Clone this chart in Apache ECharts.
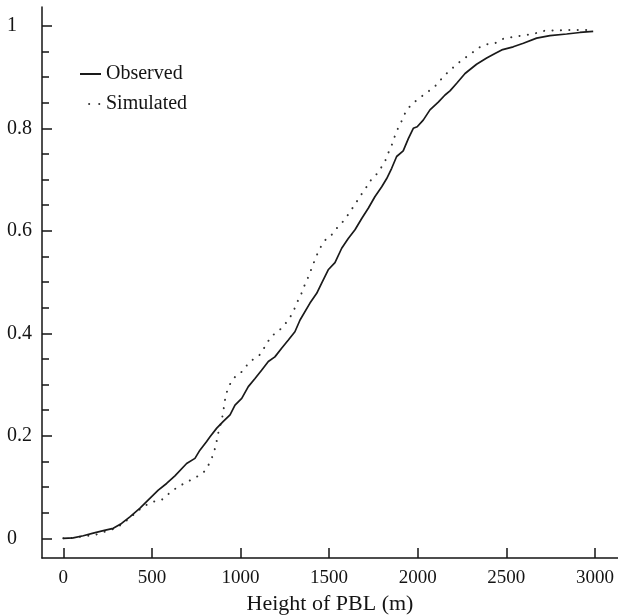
<!DOCTYPE html>
<html>
<head>
<meta charset="utf-8">
<script src="https://cdn.jsdelivr.net/npm/echarts@6/dist/echarts.min.js"></script>
<style>
  html, body { margin: 0; padding: 0; background: #ffffff; }
  #chart { width: 618px; height: 616px; }
</style>
</head>
<body>
<div id="chart"></div>
<script>
// Cumulative distribution of planetary boundary layer height
const observedHeight = [
  0, 56, 113, 169, 226, 282, 329, 376, 433, 480,
  536, 583, 630, 696, 743, 771, 809, 828, 866, 903,
  941, 969, 1007, 1044, 1082, 1119, 1157, 1194, 1232, 1270,
  1307, 1336, 1392, 1430, 1458, 1495, 1533, 1571, 1608, 1646,
  1684, 1721, 1759, 1797, 1825, 1853, 1881, 1918, 1947, 1975,
  1997, 2031, 2069, 2116, 2154, 2182, 2220, 2267, 2332, 2389,
  2436, 2474, 2539, 2596, 2671, 2746, 2840, 2915, 2990
];
const observedFraction = [
  0, 0.001, 0.005, 0.010, 0.015, 0.0195, 0.029, 0.042, 0.059, 0.075,
  0.094, 0.107, 0.122, 0.146, 0.156, 0.172, 0.189, 0.198, 0.215, 0.228,
  0.241, 0.260, 0.273, 0.296, 0.312, 0.328, 0.345, 0.354, 0.371, 0.387,
  0.403, 0.426, 0.459, 0.478, 0.498, 0.524, 0.538, 0.566, 0.585, 0.602,
  0.624, 0.644, 0.667, 0.686, 0.702, 0.722, 0.745, 0.756, 0.780, 0.800,
  0.803, 0.816, 0.836, 0.851, 0.865, 0.873, 0.888, 0.907, 0.925, 0.937,
  0.946, 0.953, 0.959, 0.966, 0.976, 0.981, 0.984, 0.987, 0.989
];
const simulatedHeight = [
  0, 56, 113, 179, 226, 282, 329, 376, 451, 504,
  555, 602, 643, 692, 738, 786, 803, 832, 846, 862,
  869, 894, 903, 909, 918, 933, 959, 1007, 1053, 1104,
  1144, 1170, 1200, 1232, 1270, 1298, 1317, 1341, 1358, 1379,
  1398, 1416, 1435, 1458, 1481, 1505, 1543, 1586, 1618, 1652,
  1680, 1712, 1725, 1749, 1780, 1815, 1834, 1858, 1872, 1890,
  1915, 1934, 1966, 2013, 2060, 2107, 2144, 2201, 2248, 2295,
  2342, 2389, 2436, 2474, 2520, 2567, 2615, 2661, 2708, 2756,
  2803, 2849, 2897, 2944, 2990
];
const simulatedFraction = [
  0, 0.001, 0.004, 0.0065, 0.012, 0.018, 0.027, 0.040, 0.062, 0.071,
  0.075, 0.089, 0.0995, 0.109, 0.117, 0.127, 0.133, 0.151, 0.164, 0.182,
  0.198, 0.231, 0.247, 0.263, 0.280, 0.296, 0.312, 0.325, 0.345, 0.356,
  0.377, 0.393, 0.401, 0.410, 0.426, 0.442, 0.459, 0.475, 0.491, 0.507,
  0.524, 0.540, 0.556, 0.572, 0.583, 0.588, 0.605, 0.621, 0.637, 0.655,
  0.670, 0.686, 0.696, 0.702, 0.716, 0.735, 0.752, 0.771, 0.786, 0.801,
  0.818, 0.834, 0.847, 0.860, 0.872, 0.885, 0.901, 0.919, 0.933, 0.944,
  0.957, 0.964, 0.966, 0.974, 0.977, 0.980, 0.982, 0.985, 0.990, 0.991,
  0.991, 0.992, 0.992, 0.992, 0.992
];

// Axis ticks and labels
const xTickValues = [0, 500, 1000, 1500, 2000, 2500, 3000];
const yLabelValues = [0, 0.2, 0.4, 0.6, 0.8, 1];
const yMinorValues = [0.05, 0.1, 0.15, 0.25, 0.3, 0.35, 0.45, 0.5, 0.55,
                      0.65, 0.7, 0.75, 0.85, 0.9, 0.95];

const xTitle = 'Height of PBL (m)';
const seriesNames = ['Observed', 'Simulated'];

const ink = '#141414';
const serif = '"Liberation Serif", "DejaVu Serif", serif';

const pairs = (xs, ys) => xs.map((x, i) => [x, ys[i]]);

const chart = echarts.init(document.getElementById('chart'), null, { renderer: 'canvas' });

const xMin = -120, xMax = 3130;
const yMin = -0.0384, yMax = 1.0367;

// an axis that only contributes a set of inward ticks
function tickAxis(kind, values, len) {
  return {
    type: 'value',
    min: kind === 'x' ? xMin : yMin,
    max: kind === 'x' ? xMax : yMax,
    position: kind === 'x' ? 'bottom' : 'left',
    offset: 0,
    axisLine: { show: false, onZero: false },
    axisTick: { show: true, inside: true, length: len, customValues: values,
                lineStyle: { color: ink, width: 1.5 } },
    axisLabel: { show: false },
    splitLine: { show: false }
  };
}

const legendBase = {
  orient: 'vertical',
  left: 79,
  padding: 0,
  itemWidth: 21, itemHeight: 14,
  itemStyle: { opacity: 0 },
  textStyle: { fontFamily: serif, fontSize: 20, color: ink, padding: [0, 0, 0, 0] },
  inactiveColor: ink
};

chart.setOption({
  animation: false,
  backgroundColor: '#ffffff',
  textStyle: { fontFamily: serif, color: ink },
  grid: { left: 42, right: 0, top: 7, bottom: 58, containLabel: false, outerBoundsMode: 'none' },
  legend: [
    Object.assign({}, legendBase, { data: [seriesNames[0]], top: 64 }),
    Object.assign({}, legendBase, {
      data: [seriesNames[1]], top: 94,
      lineStyle: { type: [0.1, 10], dashOffset: 1, width: 2, cap: 'round' }
    })
  ],
  xAxis: [
    {
      type: 'value',
      min: xMin, max: xMax,
      name: xTitle,
      nameLocation: 'middle',
      nameGap: 17,
      nameTextStyle: { fontFamily: serif, fontSize: 22, color: ink },
      axisLine: { show: true, onZero: false, lineStyle: { color: ink, width: 1.5 } },
      axisTick: { show: false },
      axisLabel: { show: true, customValues: xTickValues, margin: 11,
                   formatter: v => String(v),
                   fontFamily: serif, fontSize: 19, color: ink },
      splitLine: { show: false }
    },
    tickAxis('x', xTickValues, 10)
  ],
  yAxis: [
    {
      type: 'value',
      min: yMin, max: yMax,
      position: 'left',
      axisLine: { show: true, onZero: false, lineStyle: { color: ink, width: 1.5 } },
      axisTick: { show: false },
      axisLabel: { show: true, customValues: yLabelValues, margin: 35, align: 'left',
                   formatter: v => String(v),
                   fontFamily: serif, fontSize: 20, color: ink },
      splitLine: { show: false }
    },
    tickAxis('y', yLabelValues, 10),
    tickAxis('y', yMinorValues, 7)
  ],
  series: [
    {
      name: seriesNames[1],
      type: 'line',
      xAxisIndex: 0, yAxisIndex: 0,
      data: pairs(simulatedHeight, simulatedFraction),
      showSymbol: false,
      symbol: 'none',
      color: '#333',
      lineStyle: { color: '#333', width: 2, type: [0.1, 8.3], cap: 'round' },
      z: 2
    },
    {
      name: seriesNames[0],
      type: 'line',
      xAxisIndex: 0, yAxisIndex: 0,
      data: pairs(observedHeight, observedFraction),
      showSymbol: false,
      symbol: 'none',
      color: '#1a1a1a',
      lineStyle: { color: '#1a1a1a', width: 1.7 },
      z: 3
    }
  ]
});
</script>
</body>
</html>
